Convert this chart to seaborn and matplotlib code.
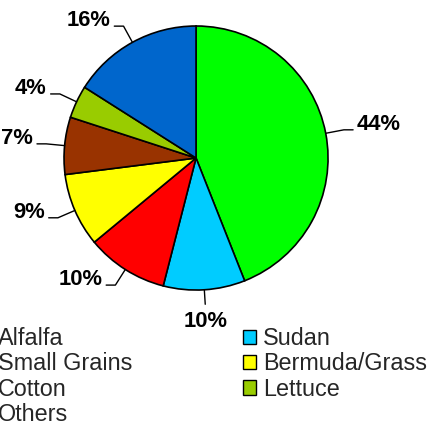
import numpy as np
import matplotlib
matplotlib.use("Agg")
import matplotlib.pyplot as plt
from matplotlib.patches import Patch
import seaborn as sns

# Crop acreage shares (percent), listed clockwise from 12 o'clock
crops = ["Alfalfa", "Sudan", "Small Grains", "Bermuda/Grass", "Cotton", "Lettuce", "Others"]
shares = [44, 10, 10, 9, 7, 4, 16]
colors = ["#00FF00", "#00CCFF", "#FF0000", "#FFFF00", "#993300", "#99CC00", "#0066CC"]

# Legend entries, column by column
legend_order = ["Alfalfa", "Small Grains", "Cotton", "Others", "Sudan", "Bermuda/Grass", "Lettuce"]

sns.set_theme(style="white")
plt.rcParams["font.family"] = ["Liberation Sans", "DejaVu Sans"]

fig = plt.figure(figsize=(4.33, 4.28), dpi=100)
ax = fig.add_axes([0, 0, 1, 1])

wedges, _ = ax.pie(
    shares,
    colors=colors,
    startangle=90,
    counterclock=False,
    radius=1.0,
    wedgeprops=dict(edgecolor="black", linewidth=1.2),
)
ax.set_aspect("auto")
ax.set_xlim(-1.485, 1.795)
ax.set_ylim(-2.045, 1.197)
ax.axis("off")

# Percentage labels with leader lines
for w, v in zip(wedges, shares):
    mid = np.deg2rad((w.theta1 + w.theta2) / 2.0)
    dx, dy = np.cos(mid), np.sin(mid)
    edge = np.array([dx, dy])
    label = f"{v}%"
    if abs(dx) < 0.2:
        end = edge * 1.11
        ax.plot([edge[0], end[0]], [edge[1], end[1]], color="black", lw=1.0)
        ax.text(end[0], end[1] - 0.05, label, ha="center", va="top",
                fontsize=15.8, fontweight="bold", color="black")
    else:
        side = 1 if dx > 0 else -1
        elbow = edge * 1.14
        end = elbow + np.array([side * 0.07, 0.0])
        ax.plot([edge[0], elbow[0], end[0]], [edge[1], elbow[1], end[1]],
                color="black", lw=1.0)
        ax.text(end[0] + side * 0.03, end[1], label,
                ha="left" if side > 0 else "right", va="baseline",
                fontsize=15.8, fontweight="bold", color="black")

color_of = dict(zip(crops, colors))
handles = [Patch(facecolor=color_of[c], edgecolor="black", linewidth=1.0, label=c)
           for c in legend_order]
fig.legend(
    handles=handles,
    loc="upper left",
    bbox_to_anchor=(-0.052, 0.236),
    ncol=2,
    frameon=False,
    fontsize=16.8,
    borderpad=0,
    borderaxespad=0,
    handlelength=0.56,
    handleheight=0.56,
    handletextpad=0.3,
    columnspacing=4.75,
    labelspacing=0.1,
)

fig.savefig("out.png", dpi=100, facecolor="white")
